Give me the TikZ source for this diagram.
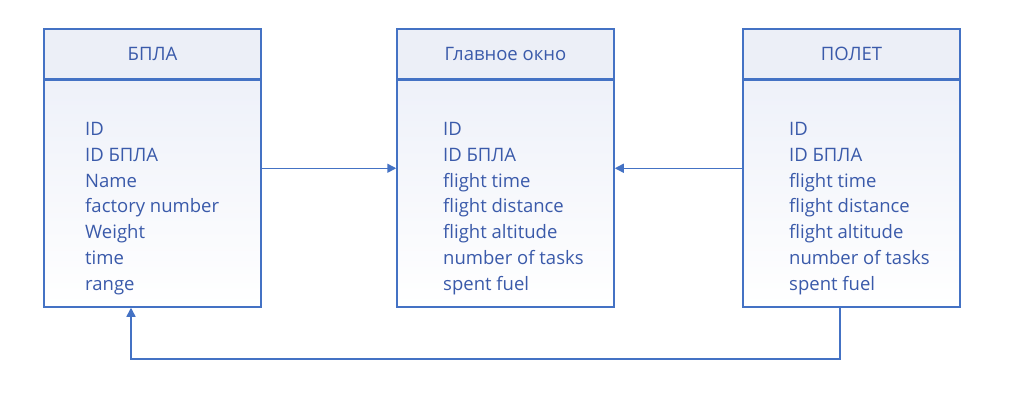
\documentclass[tikz,border=0pt]{standalone}
\usepackage{fontspec}
\setmainfont{Open Sans}
\usetikzlibrary{arrows.meta}
\definecolor{lineblue}{RGB}{68,114,196}
\definecolor{textblue}{RGB}{58,90,170}
\definecolor{headfill}{RGB}{236,239,247}
\definecolor{bodytop}{RGB}{238,241,249}
\begin{document}
\begin{tikzpicture}[x=1pt, y=-1pt,
    head/.style={draw=lineblue, line width=1.5pt, fill=headfill, minimum width=217pt, minimum height=50pt, inner sep=0pt, text=textblue, font=\fontsize{18.5}{18.5}\selectfont},
    body/.style={draw=lineblue, line width=1.5pt, top color=bodytop, bottom color=white, minimum width=217pt, minimum height=227pt, inner sep=0pt},
    fields/.style={anchor=north west, align=left, inner sep=0pt, text=textblue, font=\fontsize{18.5}{25.8}\selectfont},
    conn/.style={draw=lineblue, line width=1.5pt, -{Triangle[length=9pt, width=9pt]}}]
  \useasboundingbox (0,0) rectangle (1027,401);
  % boxes
  \node[body] (bplab) at (152.5,193.5) {};
  \node[head] (bplah) at (152.5,54) {БПЛА};
  \node[fields] (bplat) at (85,122) {ID\\ID БПЛА\\Name\\factory number\\Weight\\time\\range};
  \node[body] (mainb) at (505.5,193.5) {};
  \node[head] (mainh) at (505.5,54) {Главное окно};
  \node[fields] (maint) at (443,122) {ID\\ID БПЛА\\flight time\\flight distance\\flight altitude\\number of tasks\\spent fuel};
  \node[body] (flightb) at (851.5,193.5) {};
  \node[head] (flighth) at (851.5,54) {ПОЛЕТ};
  \node[fields] (flightt) at (789,122) {ID\\ID БПЛА\\flight time\\flight distance\\flight altitude\\number of tasks\\spent fuel};
  % links
  \draw[conn] ([yshift=-89pt]bplab.north east) -- ([yshift=-89pt]mainb.north west);
  \draw[conn] ([yshift=-89pt]flightb.north west) -- ([yshift=-89pt]mainb.north east);
  \draw[conn] ([xshift=-11.5pt]flightb.south) -- ++(0,51) -| ([xshift=-21.5pt]bplab.south);
\end{tikzpicture}
\end{document}
